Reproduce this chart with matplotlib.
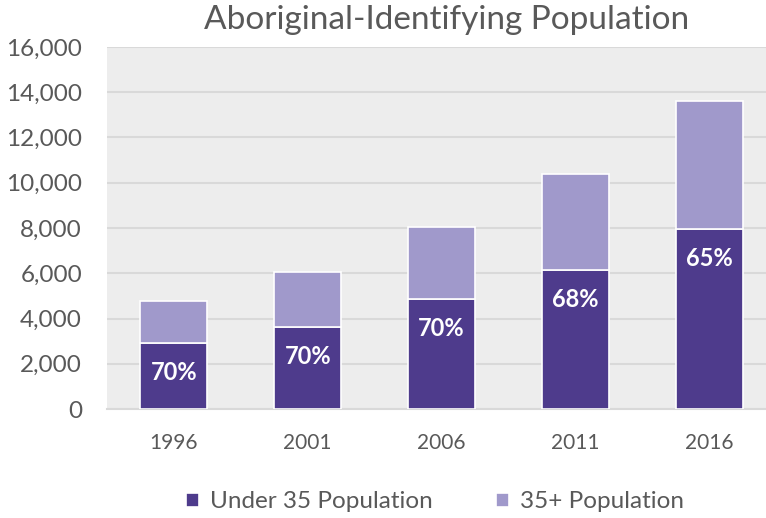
import numpy as np
import matplotlib.pyplot as plt
from matplotlib.ticker import FuncFormatter

# data
years = ['1996', '2001', '2006', '2011', '2016']
under35 = [2900, 3630, 4860, 6140, 7950]
total = [4770, 6050, 8050, 10380, 13620]
over35 = [t - u for t, u in zip(total, under35)]
share_labels = ['70%', '70%', '70%', '68%', '65%']

dark = '#4E3B8C'
light = '#A099CB'
grey_txt = '#595959'

plt.rcParams['font.family'] = ['Lato', 'DejaVu Sans']

fig = plt.figure(figsize=(7.66, 5.18), dpi=100)
ax = fig.add_axes([107 / 766, 109 / 518, 669 / 766, 362 / 518])
ax.set_facecolor('#EDEDED')

x = np.arange(len(years))
ax.bar(x, under35, width=0.5, color=dark, edgecolor='white', linewidth=1.2,
       label='Under 35 Population', zorder=3)
ax.bar(x, over35, width=0.5, bottom=under35, color=light, edgecolor='white',
       linewidth=1.2, label='35+ Population', zorder=3)

for i, lab in enumerate(share_labels):
    ax.annotate(lab, (x[i], under35[i]), xytext=(0, -21), textcoords='offset points',
                ha='center', va='center', color='white', fontsize=17,
                fontweight='bold', zorder=4)

ax.set_xlim(-0.5, 4.5)
ax.set_ylim(0, 16000)
ax.set_yticks(np.arange(0, 16001, 2000))
ax.yaxis.set_major_formatter(FuncFormatter(lambda v, p: f'{int(v):,}'))
ax.set_xticks(x)
ax.set_xticklabels(years)
ax.grid(axis='y', color='#D9D9D9', linewidth=1.5, zorder=0)
for s in ['top', 'right', 'left']:
    ax.spines[s].set_visible(False)
ax.spines['bottom'].set_color('#D9D9D9')
ax.spines['bottom'].set_linewidth(1.5)
ax.tick_params(axis='y', length=0, labelsize=17.5, labelcolor=grey_txt, pad=18)
ax.tick_params(axis='x', length=0, labelsize=15, labelcolor=grey_txt, pad=17)

fig.text(447 / 766, 1 - 20 / 518, 'Aboriginal-Identifying Population',
         ha='center', va='center', fontsize=24, color=grey_txt)

fig.legend(loc='center', bbox_to_anchor=(435 / 766, 1 - 502 / 518), ncol=2,
           frameon=False, fontsize=17.5, labelcolor=grey_txt, handlelength=0.55,
           handleheight=0.55, handletextpad=0.45, columnspacing=2.6)

fig.savefig('out.png', dpi=100)
